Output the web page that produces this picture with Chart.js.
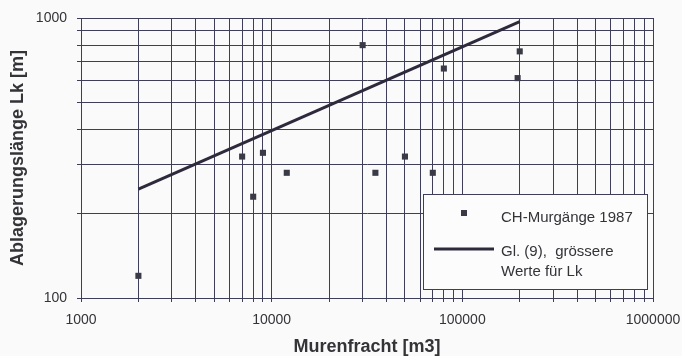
<!DOCTYPE html>
<html>
<head>
<meta charset="utf-8">
<script src="https://cdn.jsdelivr.net/npm/chart.js@4.4.1/dist/chart.umd.min.js"></script>
<style>
  html, body { margin: 0; padding: 0; background: #fafafa; }
  #wrap { width: 682px; height: 356px; }
</style>
</head>
<body>
<div id="wrap"><canvas id="chart" width="682" height="356"></canvas></div>
<script>
// Murgänge 1987: Murenfracht [m3] vs Ablagerungslänge Lk [m]
const volumes = [2000, 7000, 8000, 9000, 12000, 30000, 35000, 50000, 70000, 80000, 195000, 200000];
const lengths = [120, 320, 230, 330, 280, 800, 280, 320, 280, 660, 610, 760];

// Gl. (9) envelope line
const fitVolumes = [2000, 200000];
const fitLengths = [245, 970];

// log grid: 1..9 within each decade, labels only on the decades
const gridSteps = [1, 2, 3, 4, 5, 6, 7, 8, 9];
const xDecades = [1000, 10000, 100000];
const yDecades = [100];
const xLabels = [1000, 10000, 100000, 1000000];
const yLabels = [100, 1000];

const COLORS = {
  grid: '#3e3e5a',
  text: '#333338',
  mark: '#3a3a46',
  line: '#2e2a3c',
  bg: '#fafafa',
};
const FONT = "'Liberation Sans', Arial, sans-serif";

function gridValues(decades, last) {
  const vals = [];
  decades.forEach(d => gridSteps.forEach(s => vals.push(d * s)));
  vals.push(last);
  return vals;
}

const legendBox = {
  id: 'legendBox',
  afterDatasetsDraw(chart) {
    const { ctx, chartArea } = chart;
    const right = chartArea.right - 6, bottom = chartArea.bottom - 9;
    const left = right - 224, top = bottom - 95;
    ctx.save();
    ctx.fillStyle = '#fcfcfc';
    ctx.fillRect(left, top, right - left, bottom - top);
    ctx.strokeStyle = COLORS.grid;
    ctx.lineWidth = 1;
    ctx.strokeRect(left + 0.5, top + 0.5, right - left, bottom - top);

    // marker
    ctx.fillStyle = COLORS.mark;
    ctx.fillRect(left + 38, top + 16, 6, 6);
    // line sample
    ctx.strokeStyle = COLORS.line;
    ctx.lineWidth = 3;
    ctx.beginPath();
    ctx.moveTo(left + 11, top + 55);
    ctx.lineTo(left + 71, top + 55);
    ctx.stroke();

    ctx.fillStyle = COLORS.text;
    ctx.font = '15px ' + FONT;
    ctx.textBaseline = 'alphabetic';
    ctx.fillText('CH-Murgänge 1987', left + 78, top + 28);
    ctx.fillText('Gl. (9),  grössere', left + 78, top + 62);
    ctx.fillText('Werte für Lk', left + 78, top + 82);
    ctx.restore();
  },
};

new Chart(document.getElementById('chart'), {
  type: 'scatter',
  data: {
    datasets: [
      {
        label: 'CH-Murgänge 1987',
        data: volumes.map((v, i) => ({ x: v, y: lengths[i] })),
        pointStyle: 'rect',
        pointRadius: 4.3,
        pointBorderWidth: 0,
        backgroundColor: COLORS.mark,
        borderColor: COLORS.mark,
      },
      {
        type: 'line',
        label: 'Gl. (9), grössere Werte für Lk',
        data: fitVolumes.map((v, i) => ({ x: v, y: fitLengths[i] })),
        borderColor: COLORS.line,
        borderWidth: 3,
        pointRadius: 0,
        fill: false,
      },
    ],
  },
  options: {
    responsive: false,
    animation: false,
    layout: { padding: { top: 18, right: 29, left: 0, bottom: 0 } },
    plugins: { legend: { display: false }, tooltip: { enabled: false } },
    scales: {
      x: {
        type: 'logarithmic',
        min: 1000, max: 1000000,
        afterFit: s => { s.height = 58; s.paddingLeft = 0; s.paddingRight = 0; },
        afterBuildTicks: s => { s.ticks = gridValues(xDecades, 1000000).map(v => ({ value: v })); },
        grid: { color: COLORS.grid, lineWidth: 1, tickLength: 4 },
        border: { color: COLORS.grid, width: 1 },
        ticks: {
          autoSkip: false, maxRotation: 0, padding: 10,
          color: COLORS.text, font: { family: FONT, size: 14 },
          callback: v => xLabels.includes(v) ? String(v) : '',
        },
        title: {
          display: true, text: 'Murenfracht [m3]', color: COLORS.text,
          font: { family: FONT, size: 18, weight: 'bold', lineHeight: 1 },
          padding: { top: 0, bottom: 0 },
        },
      },
      y: {
        type: 'logarithmic',
        min: 100, max: 1000,
        afterFit: s => { s.width = 81; s.paddingTop = 0; s.paddingBottom = 0; },
        afterBuildTicks: s => { s.ticks = gridValues(yDecades, 1000).map(v => ({ value: v })); },
        grid: { color: COLORS.grid, lineWidth: 1, tickLength: 4 },
        border: { color: COLORS.grid, width: 1 },
        ticks: {
          autoSkip: false, padding: 10,
          color: COLORS.text, font: { family: FONT, size: 14 },
          callback: v => yLabels.includes(v) ? String(v) : '',
        },
        title: {
          display: true, text: 'Ablagerungslänge Lk [m]', color: COLORS.text,
          font: { family: FONT, size: 18, weight: 'bold', lineHeight: 1 },
          padding: { top: 9, bottom: 0 },
        },
      },
    },
  },
  plugins: [legendBox],
});
</script>
</body>
</html>
